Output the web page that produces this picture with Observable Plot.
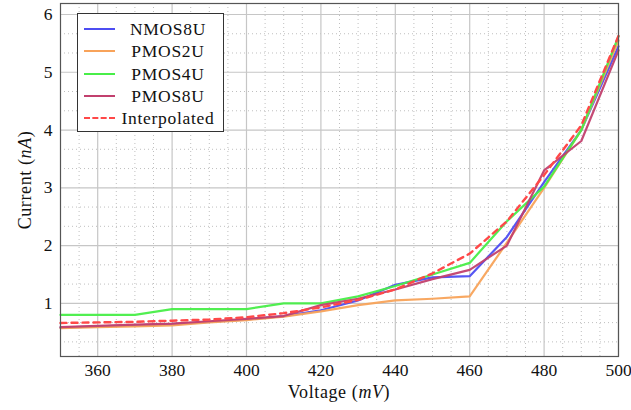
<!DOCTYPE html>
<html>
<head>
<meta charset="utf-8">
<script src="https://cdn.jsdelivr.net/npm/d3@7"></script>
<script src="https://cdn.jsdelivr.net/npm/@observablehq/plot@0.6"></script>
<style>
  html, body { margin: 0; padding: 0; background: #fff; }
  #wrap { position: relative; width: 631px; height: 410px; font-family: "Liberation Serif", "Times New Roman", serif; }
  #wrap svg, #wrap svg text { font-family: "Liberation Serif", "Times New Roman", serif !important; }
  #legend { position: absolute; left: 77px; top: 13px; width: 147px; height: 119px; background: #fff; border: 1px solid #333; box-sizing: border-box; }
  .row { position: absolute; left: 0; width: 146px; height: 22px; }
  .sample { position: absolute; left: 6px; top: 10px; width: 31px; height: 0; }
  .lab { position: absolute; left: 40px; width: 100px; text-align: center; top: 0; font-family: "Liberation Serif", serif; font-size: 17.5px; line-height: 22px; color: #111; letter-spacing: 0.7px; }
</style>
</head>
<body>
<div id="wrap"></div>
<script>
const voltage = [350, 360, 370, 380, 390, 400, 410, 420, 430, 440, 450, 460, 470, 480, 490, 500];
const nmos8u  = [0.58, 0.60, 0.62, 0.64, 0.68, 0.72, 0.78, 0.88, 1.05, 1.32, 1.45, 1.47, 2.15, 3.10, 4.00, 5.45];
const pmos2u  = [0.57, 0.59, 0.60, 0.62, 0.67, 0.71, 0.77, 0.86, 0.97, 1.05, 1.08, 1.12, 2.05, 3.00, 4.00, 5.55];
const pmos4u  = [0.80, 0.80, 0.80, 0.90, 0.90, 0.90, 1.00, 1.00, 1.12, 1.30, 1.50, 1.70, 2.42, 3.02, 4.00, 5.62];
const pmos8u  = [0.59, 0.61, 0.63, 0.65, 0.69, 0.73, 0.78, 0.97, 1.08, 1.24, 1.42, 1.58, 2.00, 3.30, 3.81, 5.38];
const interp  = [0.66, 0.67, 0.68, 0.70, 0.72, 0.76, 0.83, 0.93, 1.06, 1.24, 1.52, 1.86, 2.42, 3.22, 4.08, 5.63];

const seriesNames = ["NMOS8U", "PMOS2U", "PMOS4U", "PMOS8U", "Interpolated"];
const seriesColors = ["#4d4df2", "#f8a35a", "#48ee48", "#c2406e", "#ff4848"];
const xTicks = [360, 380, 400, 420, 440, 460, 480, 500];
const yTicks = [1, 2, 3, 4, 5, 6];
const xMinor = [355, 365, 370, 375, 385, 390, 395, 405, 410, 415, 425, 430, 435, 445, 450, 455, 465, 470, 475, 485, 490, 495];
const yMinor = [1/3, 2/3, 4/3, 5/3, 7/3, 8/3, 10/3, 11/3, 13/3, 14/3, 16/3, 17/3];

const allSeries = [nmos8u, pmos2u, pmos4u, pmos8u, interp];
const table = [];
allSeries.forEach((vals, i) => {
  vals.forEach((v, j) => table.push({series: seriesNames[i], x: voltage[j], y: v}));
});

const solid = table.filter(d => d.series !== "Interpolated");
const dashed = table.filter(d => d.series === "Interpolated");

const chart = Plot.plot({
  width: 631,
  height: 410,
  marginLeft: 60,
  marginRight: 13,
  marginTop: 3,
  marginBottom: 54,
  style: {fontFamily: "'Liberation Serif', 'Times New Roman', serif", fontSize: "17.5px", color: "#111", background: "#fff"},
  x: {domain: [350, 500], label: null},
  y: {domain: [0.08, 6.19], label: null},
  color: {domain: seriesNames, range: seriesColors},
  marks: [
    Plot.ruleX(xMinor, {stroke: "#b8b8b8", strokeWidth: 0.9, strokeDasharray: "1,3"}),
    Plot.ruleY(yMinor, {stroke: "#b8b8b8", strokeWidth: 0.9, strokeDasharray: "1,3"}),
    Plot.ruleX(xTicks, {stroke: "#c6c6c6", strokeWidth: 1.2}),
    Plot.ruleY(yTicks, {stroke: "#c6c6c6", strokeWidth: 1.2}),
    Plot.axisX({ticks: xTicks, tickSize: 0, tickPadding: 7, fontSize: 17.5, tickFormat: d => String(d)}),
    Plot.axisY({ticks: yTicks, tickSize: 0, tickPadding: 8, fontSize: 17.5, tickFormat: d => String(d)}),
    Plot.line(solid, {x: "x", y: "y", z: "series", stroke: "series", strokeWidth: 2.2, strokeOpacity: 0.95}),
    Plot.line(dashed, {x: "x", y: "y", stroke: "series", strokeWidth: 2.4, strokeDasharray: "6,5"}),
    Plot.frame({stroke: "#555", strokeWidth: 1.2})
  ]
});

const wrap = document.getElementById("wrap");
wrap.appendChild(chart);

const svg = d3.select(chart);
const xl = svg.append("text")
  .attr("x", 339).attr("y", 398)
  .attr("text-anchor", "middle")
  .attr("letter-spacing", "0.6px")
  .attr("font-size", "18px").attr("fill", "#111");
xl.append("tspan").text("Voltage (");
xl.append("tspan").attr("font-style", "italic").text("mV");
xl.append("tspan").text(")");

const yl = svg.append("text")
  .attr("transform", "translate(31,180) rotate(-90)")
  .attr("text-anchor", "middle")
  .attr("letter-spacing", "0.6px")
  .attr("font-size", "18px").attr("fill", "#111");
yl.append("tspan").text("Current (");
yl.append("tspan").attr("font-style", "italic").text("nA");
yl.append("tspan").text(")");

const legend = document.createElement("div");
legend.id = "legend";
seriesNames.forEach((name, i) => {
  const row = document.createElement("div");
  row.className = "row";
  row.style.top = (4 + i * 22.3) + "px";
  const s = document.createElement("div");
  s.className = "sample";
  s.style.borderTop = (name === "Interpolated" ? "2.4px dashed " : "2.4px solid ") + seriesColors[i];
  const l = document.createElement("div");
  l.className = "lab";
  l.textContent = name;
  row.appendChild(s);
  row.appendChild(l);
  legend.appendChild(row);
});
wrap.appendChild(legend);
</script>
</body>
</html>
